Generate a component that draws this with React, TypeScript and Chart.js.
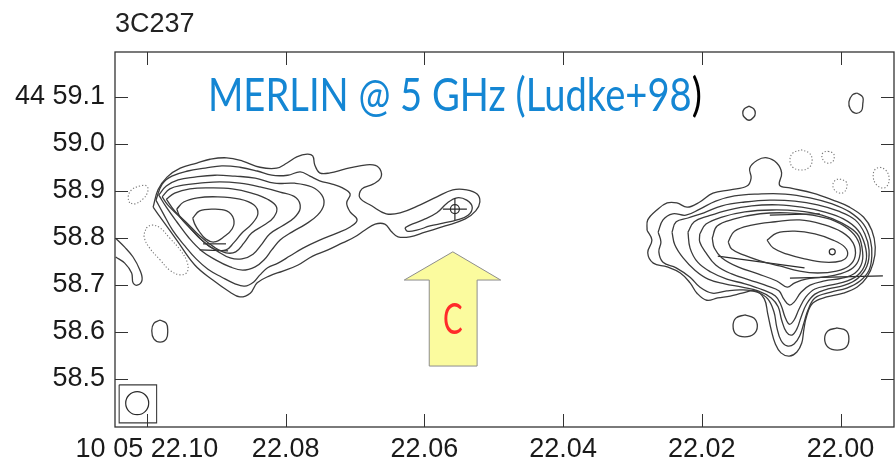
import React, { useEffect, useRef } from 'react';
import { Chart, registerables } from 'chart.js';

Chart.register(...registerables);

type P = [number, number];

// ---- axes ----
const raTicks = [22.1, 22.08, 22.06, 22.04, 22.02, 22.0];
const raTickLabels = ['10 05 22.10', '22.08', '22.06', '22.04', '22.02', '22.00'];
const decTicks = [59.1, 59.0, 58.9, 58.8, 58.7, 58.6, 58.5];
const decTickLabels = ['44 59.1', '59.0', '58.9', '58.8', '58.7', '58.6', '58.5'];
const raRange = [21.9923, 22.1046];
const decRange = [58.3973, 59.1952];

// ---- western lobe contours (RA s, Dec arcmin) ----
const leftC1: P[] = [[22.0991,58.865],[22.0984,58.902],[22.0971,58.929],[22.0952,58.948],[22.0928,58.959],[22.0909,58.967],[22.0885,58.970],[22.0862,58.963],[22.0837,58.950],[22.0813,58.948],[22.0798,58.959],[22.0784,58.972],[22.0769,58.978],[22.0761,58.974],[22.0758,58.955],[22.0751,58.938],[22.0736,58.938],[22.0715,58.946],[22.0693,58.953],[22.0674,58.955],[22.0664,58.946],[22.0663,58.927],[22.0674,58.914],[22.0690,58.904],[22.0693,58.885],[22.0676,58.868],[22.0655,58.851],[22.0635,58.853],[22.0606,58.870],[22.0582,58.887],[22.0559,58.902],[22.0539,58.902],[22.0524,58.893],[22.0520,58.876],[22.0526,58.857],[22.0541,58.840],[22.0570,58.825],[22.0599,58.812],[22.0621,58.802],[22.0638,58.802],[22.0648,58.814],[22.0657,58.829],[22.0671,58.829],[22.0686,58.816],[22.0700,58.802],[22.0718,58.789],[22.0739,58.774],[22.0761,58.761],[22.0782,58.742],[22.0804,58.729],[22.0823,58.719],[22.0841,58.704],[22.0851,58.682],[22.0866,58.674],[22.0880,58.684],[22.0905,58.710],[22.0931,58.742],[22.0957,58.795],[22.0978,58.838]];
const leftC2: P[] = [[22.0987,58.880],[22.0978,58.914],[22.0964,58.931],[22.0941,58.942],[22.0916,58.948],[22.0892,58.953],[22.0866,58.950],[22.0841,58.942],[22.0820,58.933],[22.0797,58.933],[22.0779,58.940],[22.0765,58.931],[22.0751,58.921],[22.0733,58.914],[22.0718,58.906],[22.0707,58.893],[22.0712,58.874],[22.0707,58.855],[22.0697,58.838],[22.0707,58.823],[22.0726,58.810],[22.0751,58.795],[22.0775,58.778],[22.0794,58.761],[22.0811,58.746],[22.0826,58.736],[22.0837,58.721],[22.0846,58.706],[22.0859,58.697],[22.0873,58.702],[22.0892,58.716],[22.0912,58.733],[22.0929,58.755],[22.0945,58.782],[22.0963,58.816],[22.0977,58.853]];
const leftC3: P[] = [[22.0983,58.891],[22.0972,58.910],[22.0955,58.923],[22.0931,58.929],[22.0902,58.933],[22.0873,58.931],[22.0844,58.927],[22.0816,58.916],[22.0787,58.916],[22.0762,58.908],[22.0748,58.891],[22.0745,58.870],[22.0754,58.848],[22.0771,58.829],[22.0791,58.812],[22.0808,58.795],[22.0820,58.774],[22.0831,58.753],[22.0844,58.738],[22.0862,58.731],[22.0880,58.738],[22.0901,58.753],[22.0921,58.772],[22.0939,58.799],[22.0957,58.834],[22.0972,58.865]];
const leftC4: P[] = [[22.0978,58.887],[22.0967,58.904],[22.0948,58.912],[22.0924,58.916],[22.0895,58.919],[22.0866,58.916],[22.0837,58.908],[22.0808,58.897],[22.0785,58.885],[22.0779,58.863],[22.0788,58.842],[22.0805,58.825],[22.0823,58.808],[22.0834,58.787],[22.0847,58.765],[22.0863,58.755],[22.0880,58.757],[22.0899,58.772],[22.0918,58.791],[22.0937,58.819],[22.0954,58.846],[22.0970,58.870]];
const leftC5: P[] = [[22.0972,58.882],[22.0960,58.895],[22.0938,58.904],[22.0909,58.906],[22.0877,58.904],[22.0849,58.895],[22.0826,58.882],[22.0813,58.865],[22.0817,58.844],[22.0831,58.827],[22.0849,58.810],[22.0860,58.789],[22.0872,58.770],[22.0886,58.768],[22.0903,58.780],[22.0924,58.804],[22.0942,58.831],[22.0960,58.857]];
const leftC6: P[] = [[22.0957,58.861],[22.0947,58.876],[22.0927,58.885],[22.0898,58.887],[22.0866,58.882],[22.0846,58.870],[22.0840,58.851],[22.0849,58.829],[22.0863,58.810],[22.0875,58.789],[22.0886,58.774],[22.0903,58.776],[22.0921,58.795],[22.0938,58.821],[22.0952,58.844]];
const leftC7: P[] = [[22.0934,58.842],[22.0924,58.857],[22.0905,58.861],[22.0885,58.857],[22.0875,58.840],[22.0877,58.819],[22.0889,58.802],[22.0903,58.791],[22.0915,58.797],[22.0925,58.814],[22.0931,58.829]];
const coreC1: P[] = [[22.0628,58.821],[22.0621,58.827],[22.0602,58.838],[22.0582,58.853],[22.0567,58.874],[22.0553,58.885],[22.0539,58.880],[22.0531,58.865],[22.0537,58.848],[22.0553,58.838],[22.0573,58.831],[22.0592,58.825],[22.0611,58.816],[22.0625,58.814]];
const edgeArc: P[] = [[22.1045,58.799],[22.1032,58.780],[22.1020,58.759],[22.1010,58.731],[22.1007,58.710],[22.1014,58.699],[22.1020,58.704],[22.1022,58.725],[22.1032,58.746],[22.1045,58.759]];
const blobSW: P[] = [[22.0981,58.625],[22.0972,58.618],[22.0970,58.602],[22.0972,58.585],[22.0981,58.578],[22.0990,58.585],[22.0993,58.602],[22.0990,58.618]];
const negA: P[] = [[22.1025,58.874],[22.1027,58.887],[22.1022,58.902],[22.1010,58.910],[22.1000,58.910],[22.0999,58.897],[22.1006,58.882],[22.1017,58.872]];
const negB: P[] = [[22.1001,58.821],[22.0993,58.827],[22.0981,58.821],[22.0967,58.799],[22.0952,58.774],[22.0942,58.748],[22.0942,58.727],[22.0952,58.721],[22.0967,58.731],[22.0981,58.753],[22.0996,58.778],[22.1004,58.802]];

// ---- eastern lobe contours ----
const rightC1: P[] = [[22.0279,58.816],[22.0278,58.838],[22.0265,58.859],[22.0250,58.874],[22.0236,58.874],[22.0221,58.865],[22.0203,58.876],[22.0184,58.895],[22.0159,58.902],[22.0135,58.910],[22.0129,58.927],[22.0131,58.948],[22.0120,58.965],[22.0106,58.970],[22.0092,58.959],[22.0085,58.938],[22.0088,58.912],[22.0073,58.906],[22.0040,58.895],[22.0011,58.880],[21.9987,58.865],[21.9967,58.844],[21.9955,58.816],[21.9950,58.780],[21.9953,58.746],[21.9962,58.716],[21.9976,58.695],[21.9996,58.682],[22.0020,58.674],[22.0040,58.661],[22.0049,58.633],[22.0053,58.604],[22.0056,58.576],[22.0063,58.557],[22.0074,58.548],[22.0086,58.555],[22.0094,58.574],[22.0100,58.604],[22.0105,58.638],[22.0110,58.670],[22.0123,58.687],[22.0142,58.682],[22.0159,58.676],[22.0177,58.672],[22.0193,58.667],[22.0207,58.682],[22.0217,58.704],[22.0231,58.725],[22.0250,58.738],[22.0270,58.746],[22.0278,58.768],[22.0272,58.795]];
const rightC2: P[] = [[22.0263,58.812],[22.0256,58.838],[22.0242,58.851],[22.0223,58.848],[22.0203,58.861],[22.0180,58.878],[22.0153,58.889],[22.0119,58.893],[22.0080,58.893],[22.0044,58.885],[22.0012,58.872],[21.9987,58.855],[21.9967,58.829],[21.9957,58.795],[21.9955,58.761],[21.9959,58.731],[21.9972,58.708],[21.9991,58.693],[22.0015,58.684],[22.0037,58.672],[22.0047,58.646],[22.0053,58.618],[22.0059,58.591],[22.0067,58.574],[22.0077,58.570],[22.0086,58.582],[22.0092,58.610],[22.0096,58.642],[22.0105,58.670],[22.0120,58.684],[22.0142,58.689],[22.0164,58.687],[22.0185,58.682],[22.0203,58.695],[22.0217,58.716],[22.0237,58.736],[22.0256,58.748],[22.0262,58.770],[22.0259,58.791]];
const rightC3: P[] = [[22.0243,58.812],[22.0237,58.834],[22.0220,58.842],[22.0197,58.853],[22.0171,58.868],[22.0138,58.876],[22.0102,58.880],[22.0066,58.878],[22.0033,58.870],[22.0004,58.857],[21.9979,58.838],[21.9965,58.808],[21.9959,58.774],[21.9962,58.740],[21.9975,58.714],[21.9994,58.699],[22.0018,58.691],[22.0037,58.680],[22.0049,58.659],[22.0057,58.631],[22.0063,58.606],[22.0070,58.593],[22.0078,58.599],[22.0085,58.625],[22.0090,58.653],[22.0100,58.672],[22.0119,58.687],[22.0142,58.695],[22.0167,58.702],[22.0191,58.712],[22.0210,58.731],[22.0227,58.757],[22.0239,58.785]];
const rightC4: P[] = [[22.0220,58.812],[22.0211,58.834],[22.0191,58.846],[22.0162,58.859],[22.0128,58.868],[22.0090,58.870],[22.0056,58.865],[22.0024,58.855],[21.9996,58.840],[21.9975,58.816],[21.9965,58.785],[21.9963,58.753],[21.9972,58.725],[21.9990,58.708],[22.0015,58.699],[22.0037,58.691],[22.0050,58.674],[22.0060,58.648],[22.0067,58.625],[22.0074,58.616],[22.0080,58.631],[22.0086,58.657],[22.0094,58.676],[22.0112,58.689],[22.0138,58.702],[22.0164,58.712],[22.0187,58.727],[22.0206,58.748],[22.0217,58.778]];
const rightC5: P[] = [[22.0203,58.808],[22.0194,58.829],[22.0171,58.844],[22.0138,58.855],[22.0099,58.859],[22.0062,58.857],[22.0027,58.848],[21.9998,58.831],[21.9976,58.808],[21.9969,58.778],[21.9969,58.748],[21.9979,58.725],[21.9998,58.714],[22.0023,58.708],[22.0044,58.699],[22.0057,58.684],[22.0067,58.663],[22.0074,58.657],[22.0082,58.670],[22.0089,58.687],[22.0105,58.697],[22.0131,58.710],[22.0157,58.723],[22.0180,58.742],[22.0195,58.770],[22.0203,58.791]];
const rightC6: P[] = [[22.0185,58.799],[22.0178,58.825],[22.0153,58.840],[22.0116,58.851],[22.0077,58.853],[22.0041,58.848],[22.0009,58.836],[21.9985,58.814],[21.9973,58.787],[21.9973,58.757],[21.9982,58.736],[22.0001,58.723],[22.0026,58.716],[22.0050,58.712],[22.0066,58.704],[22.0077,58.695],[22.0092,58.708],[22.0119,58.723],[22.0148,58.738],[22.0171,58.757],[22.0182,58.778]];
const rightC7: P[] = [[22.0162,58.791],[22.0153,58.814],[22.0128,58.827],[22.0094,58.834],[22.0059,58.838],[22.0027,58.829],[21.9998,58.812],[21.9982,58.789],[21.9979,58.761],[21.9988,58.740],[22.0006,58.729],[22.0033,58.725],[22.0059,58.729],[22.0088,58.740],[22.0116,58.751],[22.0139,58.763],[22.0157,58.776]];
const rightC8: P[] = [[22.0106,58.795],[22.0092,58.810],[22.0066,58.814],[22.0037,58.808],[22.0011,58.795],[21.9994,58.780],[21.9990,58.763],[21.9999,58.751],[22.0023,58.748],[22.0052,58.755],[22.0077,58.765],[22.0097,58.778]];
const rightLoop: P[] = [[22.0138,58.636],[22.0125,58.629],[22.0120,58.612],[22.0125,58.595],[22.0138,58.589],[22.0151,58.595],[22.0155,58.612],[22.0151,58.629]];
const blobSE: P[] = [[22.0005,58.608],[21.9992,58.602],[21.9988,58.585],[21.9992,58.567],[22.0005,58.561],[22.0018,58.567],[22.0023,58.585],[22.0018,58.602]];
const blobN1: P[] = [[22.0132,59.080],[22.0125,59.074],[22.0123,59.065],[22.0125,59.057],[22.0132,59.050],[22.0139,59.057],[22.0141,59.065],[22.0139,59.074]];
const blobN2: P[] = [[21.9976,59.108],[21.9968,59.099],[21.9968,59.085],[21.9970,59.070],[21.9979,59.065],[21.9986,59.074],[21.9988,59.089],[21.9983,59.104]];
const negC: P[] = [[22.0057,58.987],[22.0045,58.980],[22.0041,58.965],[22.0045,58.950],[22.0057,58.944],[22.0069,58.950],[22.0073,58.965],[22.0069,58.980]];
const negD: P[] = [[22.0018,58.984],[22.0011,58.980],[22.0009,58.972],[22.0012,58.961],[22.0020,58.959],[22.0025,58.965],[22.0027,58.976],[22.0024,58.982]];
const negE: P[] = [[22.0001,58.925],[21.9992,58.919],[21.9991,58.908],[21.9995,58.897],[22.0002,58.895],[22.0009,58.902],[22.0011,58.914],[22.0007,58.923]];
const negF: P[] = [[21.9943,58.950],[21.9935,58.944],[21.9930,58.927],[21.9933,58.910],[21.9940,58.906],[21.9949,58.914],[21.9953,58.931],[21.9950,58.946]];

// short straight streaks (map artefacts)
const streaks: P[][] = [
  [[22.0177,58.761],[22.0052,58.736]],
  [[22.0073,58.714],[21.9939,58.719]],
  [[22.0102,58.848],[22.0030,58.851]],
  [[22.0919,58.787],[22.0886,58.787]],
  [[22.0924,58.774],[22.0883,58.772]],
];

// markers
const corePos: P = [22.0556, 58.861];
const peakSpot: P = [22.0012, 58.770];
const beamCenter: P = [22.1014, 58.448];
const beamBox: P[] = [[22.1040,58.487],[22.0986,58.487],[22.0986,58.406],[22.1040,58.406]];

// annotations
const arrowShape = { tip: [22.0559, 58.770], wingL: 22.0629, wingR: 22.0490, shaftL: 22.0593, shaftR: 22.0524, wingDec: 58.710, baseDec: 58.527 };
const arrowLabel = { text: 'C', ra: 22.0559, dec: 58.625 };
const noteText = { main: 'MERLIN @ 5 GHz (Ludke+98', tail: ')', raStart: 22.0912, raEnd: 22.0200, dec: 59.070 };
const titleText = '3C237';

const LINE = '#3b3b3b';
const toXY = (pts: P[]) => pts.map(([x, y]) => ({ x, y }));

function contour(pts: P[], closed = true, extra: any = {}) {
  return {
    data: toXY(closed ? [...pts, pts[0]] : pts),
    showLine: true,
    tension: 0.4,
    pointRadius: 0,
    pointHoverRadius: 0,
    pointBorderWidth: 0,
    borderColor: LINE,
    borderWidth: 1.3,
    fill: false,
    ...extra,
  };
}
const dotted = (pts: P[]) => contour(pts, true, { borderDash: [1.2, 2], borderColor: '#777', borderWidth: 1.1 });

export default function App() {
  const ref = useRef<HTMLCanvasElement>(null);

  useEffect(() => {
    const canvas = ref.current;
    if (!canvas) return;

    const datasets: any[] = [
      ...[leftC1, leftC2, leftC3, leftC4, leftC5, leftC6, leftC7, coreC1].map((c) => contour(c)),
      contour(edgeArc, false),
      contour(blobSW),
      dotted(negA),
      dotted(negB),
      ...[rightC1, rightC2, rightC3, rightC4, rightC5, rightC6, rightC7, rightC8].map((c) => contour(c)),
      contour(rightLoop),
      contour(blobSE),
      contour(blobN1),
      contour(blobN2),
      dotted(negC),
      dotted(negD),
      dotted(negE),
      dotted(negF),
      ...streaks.map((s) => contour(s, false, { tension: 0, borderWidth: 1.2, borderColor: '#2a2a2a' })),
      contour(beamBox, true, { tension: 0, borderWidth: 1.1 }),
    ];

    const decor = {
      id: 'decor',
      afterDatasetsDraw(chart: any) {
        const { ctx, scales } = chart;
        const xs = scales.x, ys = scales.y;
        const X = (v: number) => xs.getPixelForValue(v);
        const Y = (v: number) => ys.getPixelForValue(v);
        ctx.save();
        // markers: beam, core cross, peak spot
        ctx.strokeStyle = '#2a2a2a';
        ctx.lineWidth = 1.2;
        const circle = (p: P, r: number) => { ctx.beginPath(); ctx.arc(X(p[0]), Y(p[1]), r, 0, Math.PI * 2); ctx.stroke(); };
        circle(beamCenter, 11.5);
        circle(corePos, 4.5);
        circle(peakSpot, 3);
        const cx = X(corePos[0]), cy = Y(corePos[1]);
        ctx.beginPath();
        ctx.moveTo(cx - 12, cy); ctx.lineTo(cx + 12, cy);
        ctx.moveTo(cx, cy - 11); ctx.lineTo(cx, cy + 11);
        ctx.stroke();
        // arrow
        const a = arrowShape;
        ctx.beginPath();
        ctx.moveTo(X(a.tip[0]), Y(a.tip[1]));
        ctx.lineTo(X(a.wingR), Y(a.wingDec));
        ctx.lineTo(X(a.shaftR), Y(a.wingDec));
        ctx.lineTo(X(a.shaftR), Y(a.baseDec));
        ctx.lineTo(X(a.shaftL), Y(a.baseDec));
        ctx.lineTo(X(a.shaftL), Y(a.wingDec));
        ctx.lineTo(X(a.wingL), Y(a.wingDec));
        ctx.closePath();
        ctx.fillStyle = '#fbfb9e';
        ctx.fill();
        ctx.strokeStyle = '#8d8d8d';
        ctx.lineWidth = 1;
        ctx.stroke();
        // label C
        ctx.font = '42px Lato, "Open Sans", sans-serif';
        ctx.fillStyle = '#ff2a2a';
        ctx.textAlign = 'center';
        ctx.textBaseline = 'middle';
        ctx.translate(X(arrowLabel.ra), Y(arrowLabel.dec));
        ctx.scale(0.7, 1);
        ctx.fillText(arrowLabel.text, 0, 0);
        ctx.restore();
      },
      afterDraw(chart: any) {
        const { ctx, chartArea: ar, scales } = chart;
        const xs = scales.x, ys = scales.y;
        ctx.save();
        // frame
        ctx.strokeStyle = '#333';
        ctx.lineWidth = 1.3;
        ctx.strokeRect(ar.left, ar.top, ar.right - ar.left, ar.bottom - ar.top);
        ctx.lineWidth = 1;
        ctx.beginPath();
        const tl = 13;
        for (const v of decTicks) {
          const y = Math.round(ys.getPixelForValue(v)) + 0.5;
          ctx.moveTo(ar.left, y); ctx.lineTo(ar.left + tl, y);
          ctx.moveTo(ar.right - tl, y); ctx.lineTo(ar.right, y);
        }
        for (const v of raTicks) {
          const x = Math.round(xs.getPixelForValue(v)) + 0.5;
          ctx.moveTo(x, ar.bottom); ctx.lineTo(x, ar.bottom - tl);
          ctx.moveTo(x, ar.top); ctx.lineTo(x, ar.top + tl);
        }
        ctx.stroke();
        // title
        ctx.fillStyle = '#222';
        ctx.font = '27px "Liberation Sans", Arial, sans-serif';
        ctx.textAlign = 'left';
        ctx.textBaseline = 'alphabetic';
        ctx.fillText(titleText, ar.left, ar.top - 20);
        // note text (condensed)
        const x0 = xs.getPixelForValue(noteText.raStart);
        const x1 = xs.getPixelForValue(noteText.raEnd);
        const yb = ys.getPixelForValue(noteText.dec);
        ctx.font = '46px Lato, "Open Sans", sans-serif';
        const w1 = ctx.measureText(noteText.main).width;
        const w2 = ctx.measureText(noteText.tail).width;
        const sx = (x1 - x0) / (w1 + w2);
        ctx.translate(x0, yb);
        ctx.scale(sx, 1);
        ctx.fillStyle = '#1486d3';
        ctx.fillText(noteText.main, 0, 0);
        ctx.fillStyle = '#000';
        ctx.fillText(noteText.tail, w1, 0);
        ctx.restore();
      },
    };

    const chart = new Chart(canvas, {
      type: 'scatter',
      data: { datasets },
      options: {
        responsive: false,
        animation: false,
        events: [],
        layout: { padding: { left: 0, right: 1, top: 52, bottom: 0 } },
        plugins: { legend: { display: false }, tooltip: { enabled: false }, title: { display: false } },
        scales: {
          x: {
            type: 'linear',
            reverse: true,
            min: raRange[0],
            max: raRange[1],
            afterBuildTicks: (s: any) => { s.ticks = raTicks.map((v) => ({ value: v })); },
            afterFit: (s: any) => { s.height = 35; s.paddingLeft = 0; s.paddingRight = 0; },
            grid: { display: false, drawTicks: false },
            border: { display: false },
            ticks: {
              autoSkip: false,
              maxRotation: 0,
              minRotation: 0,
              padding: 6,
              color: '#1a1a1a',
              font: { family: '"Liberation Sans", Arial, sans-serif', size: 27 },
              callback: (v: any) => {
                const i = raTicks.findIndex((t) => Math.abs(t - v) < 1e-6);
                return i >= 0 ? raTickLabels[i] : '';
              },
            },
          },
          y: {
            type: 'linear',
            min: decRange[0],
            max: decRange[1],
            afterBuildTicks: (s: any) => { s.ticks = decTicks.map((v) => ({ value: v })); },
            afterFit: (s: any) => { s.width = 115; s.paddingTop = 0; s.paddingBottom = 0; },
            grid: { display: false, drawTicks: false },
            border: { display: false },
            ticks: {
              autoSkip: false,
              padding: 10,
              color: '#1a1a1a',
              font: { family: '"Liberation Sans", Arial, sans-serif', size: 27 },
              callback: (v: any) => {
                const i = decTicks.findIndex((t) => Math.abs(t - v) < 1e-6);
                return i >= 0 ? decTickLabels[i] : '';
              },
            },
          },
        },
      },
      plugins: [decor],
    } as any);

    return () => chart.destroy();
  }, []);

  return (
    <div style={{ position: 'fixed', left: 0, top: 0, width: 895, height: 462, background: '#fff' }}>
      <canvas ref={ref} width={895} height={462} style={{ display: 'block', width: 895, height: 462 }} />
    </div>
  );
}
